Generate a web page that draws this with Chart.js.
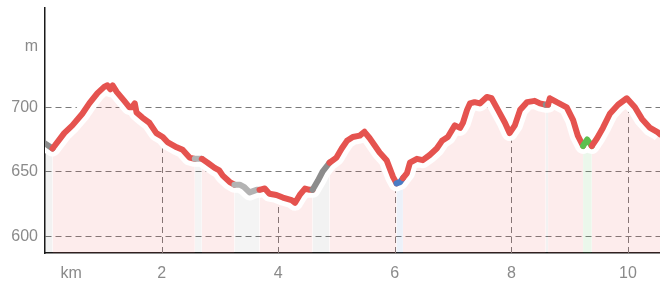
<!DOCTYPE html>
<html>
<head>
<meta charset="utf-8">
<script src="https://cdn.jsdelivr.net/npm/chart.js@4.4.1/dist/chart.umd.min.js"></script>
<style>
  html, body { margin: 0; padding: 0; background: #fff; }
  .wrapper { width: 660px; height: 283px; position: relative; }
</style>
</head>
<body>
<div class="wrapper">
  <canvas id="canvas" width="660" height="283"></canvas>
</div>
<script>
// distance along the route (km) and elevation (m)
var distanceKm = [0, 0.13, 0.33, 0.47, 0.64, 0.76, 0.90, 1.02, 1.07, 1.12, 1.16, 1.23, 1.36, 1.45, 1.49, 1.54, 1.57,
  1.67, 1.79, 1.91, 2.02, 2.10, 2.26, 2.36, 2.48, 2.57, 2.69, 2.79, 2.91, 2.99, 3.05, 3.17, 3.25, 3.34, 3.42,
  3.51, 3.63, 3.68, 3.77, 3.85, 3.97, 4.08, 4.23, 4.29, 4.37, 4.46, 4.54, 4.59, 4.68, 4.76, 4.88, 5.00, 5.09,
  5.18, 5.28, 5.40, 5.48, 5.57, 5.74, 5.86, 5.97, 6.03, 6.09, 6.14, 6.21, 6.26, 6.38, 6.48, 6.60, 6.72, 6.81,
  6.91, 7.03, 7.12, 7.17, 7.24, 7.29, 7.37, 7.46, 7.58, 7.66, 7.77, 7.89, 7.97, 8.06, 8.15, 8.27, 8.40, 8.49,
  8.59, 8.63, 8.66, 8.78, 8.95, 9.06, 9.14, 9.23, 9.30, 9.38, 9.47, 9.57, 9.69, 9.83, 9.98, 10.12, 10.24,
  10.38, 10.50, 10.55];
var elevationM = [672, 668, 680, 686, 695, 703, 711, 716, 717, 714, 717, 712, 705, 700, 700, 703, 696,
  692, 688, 680, 677, 673, 669, 667, 661, 660, 660, 657, 653, 651, 647, 642, 640, 640, 638,
  634, 636, 636, 637, 633, 632, 630, 628, 626, 632, 637, 636, 636, 643, 650, 657, 661, 668,
  674, 677, 678, 681, 676, 665, 659, 646, 641, 642, 645, 649, 657, 660, 659, 663, 668, 674,
  677, 686, 684, 688, 698, 703, 704, 703, 708, 707, 698, 688, 680, 686, 698, 704, 705, 703,
  702, 702, 707, 704, 700, 690, 678, 670, 675, 670, 676, 684, 695, 702, 707, 700, 691,
  684, 681, 679];

// surface type of the route, starting at each km mark
var surfaceFromKm = [0, 0.13, 2.57, 2.69, 3.25, 3.68, 4.59, 4.88, 6.03, 6.14, 8.59, 8.63, 9.23, 9.38];
var surfaceKind = ['unpaved', 'asphalt', 'paved', 'asphalt', 'paved', 'asphalt', 'unpaved', 'asphalt',
  'path', 'asphalt', 'unpaved', 'asphalt', 'grass', 'asphalt'];

var yTicks = [600, 650, 700, 747];
var xTicks = [0.45, 2, 4, 6, 8, 10];
var xGridKm = [2, 4, 6, 8, 10];

var lineColors = { asphalt: '#e5534f', paved: '#b3b3b3', unpaved: '#8c8c8c', path: '#4a7cc4', grass: '#5cbf4e' };
var fillColors = {
  asphalt: 'rgba(235, 80, 80, 0.11)',
  paved: 'rgba(0, 0, 0, 0.045)',
  unpaved: 'rgba(0, 0, 0, 0.05)',
  path: 'rgba(70, 120, 200, 0.10)',
  grass: 'rgba(90, 190, 90, 0.12)'
};

function surfaceAt(km) {
  var kind = surfaceKind[0];
  for (var i = 0; i < surfaceFromKm.length; i++) {
    if (km >= surfaceFromKm[i]) kind = surfaceKind[i];
  }
  return kind;
}
function segKind(ctx) {
  return surfaceAt((ctx.p0.parsed.x + ctx.p1.parsed.x) / 2);
}

var points = distanceKm.map(function(d, i) { return { x: d, y: elevationM[i] }; });

// dashed vertical grid lines, only below the profile
var underCurveGrid = {
  id: 'underCurveGrid',
  beforeDatasetsDraw: function(chart) {
    var ctx = chart.ctx, area = chart.chartArea, x = chart.scales.x;
    var pts = chart.getDatasetMeta(2).data;
    ctx.save();
    ctx.beginPath();
    ctx.moveTo(pts[0].x, area.bottom);
    pts.forEach(function(p) { ctx.lineTo(p.x, p.y); });
    ctx.lineTo(pts[pts.length - 1].x, area.bottom);
    ctx.closePath();
    ctx.clip();
    ctx.strokeStyle = '#7a7a7a';
    ctx.lineWidth = 1;
    ctx.setLineDash([6, 4]);
    xGridKm.forEach(function(v) {
      var px = Math.round(x.getPixelForValue(v)) + 0.5;
      ctx.beginPath();
      ctx.moveTo(px, area.bottom);
      ctx.lineTo(px, area.top);
      ctx.stroke();
    });
    ctx.restore();
  }
};

var tickFont = { family: 'Liberation Sans', size: 16 };

new Chart(document.getElementById('canvas'), {
  type: 'line',
  data: {
    datasets: [
      {
        data: points,
        order: 1,
        fill: false,
        borderWidth: 6,
        borderColor: lineColors.asphalt,
        borderCapStyle: 'round',
        borderJoinStyle: 'round',
        pointRadius: 0,
        tension: 0,
        segment: { borderColor: function(c) { return lineColors[segKind(c)]; } }
      },
      {
        data: points,
        order: 2,
        fill: false,
        borderWidth: 16,
        borderColor: '#ffffff',
        borderJoinStyle: 'round',
        pointRadius: 0,
        tension: 0
      },
      {
        data: points,
        order: 3,
        fill: 'start',
        borderWidth: 0,
        backgroundColor: fillColors.asphalt,
        pointRadius: 0,
        tension: 0,
        segment: { backgroundColor: function(c) { return fillColors[segKind(c)]; } }
      }
    ]
  },
  options: {
    responsive: false,
    animation: false,
    layout: { padding: { top: 8, left: 0, right: 0, bottom: 0 } },
    plugins: { legend: { display: false }, tooltip: { enabled: false } },
    scales: {
      x: {
        type: 'linear',
        min: 0,
        max: 10.55,
        grid: { display: false },
        border: { display: true, color: '#1a1a1a', width: 1.5 },
        afterBuildTicks: function(scale) { scale.ticks = xTicks.map(function(v) { return { value: v }; }); },
        afterFit: function(scale) { scale.height = 30; scale.paddingLeft = 0; scale.paddingRight = 0; },
        ticks: {
          autoSkip: false,
          maxRotation: 0,
          padding: 3,
          color: '#8a8a8a',
          font: tickFont,
          callback: function(v) { return v < 1 ? 'km' : v; }
        }
      },
      y: {
        min: 587,
        max: 777,
        grid: {
          drawTicks: false,
          color: function(c) { return c.tick && c.tick.value > 720 ? 'rgba(0,0,0,0)' : '#7a7a7a'; }
        },
        border: { display: true, color: '#1a1a1a', width: 1.5, dash: [6, 4] },
        afterBuildTicks: function(scale) { scale.ticks = yTicks.map(function(v) { return { value: v }; }); },
        afterFit: function(scale) { scale.width = 45; scale.paddingTop = 0; scale.paddingBottom = 0; },
        ticks: {
          padding: 7,
          color: '#8a8a8a',
          font: tickFont,
          callback: function(v) { return v > 720 ? 'm' : v; }
        }
      }
    }
  },
  plugins: [underCurveGrid]
});
</script>
</body>
</html>
